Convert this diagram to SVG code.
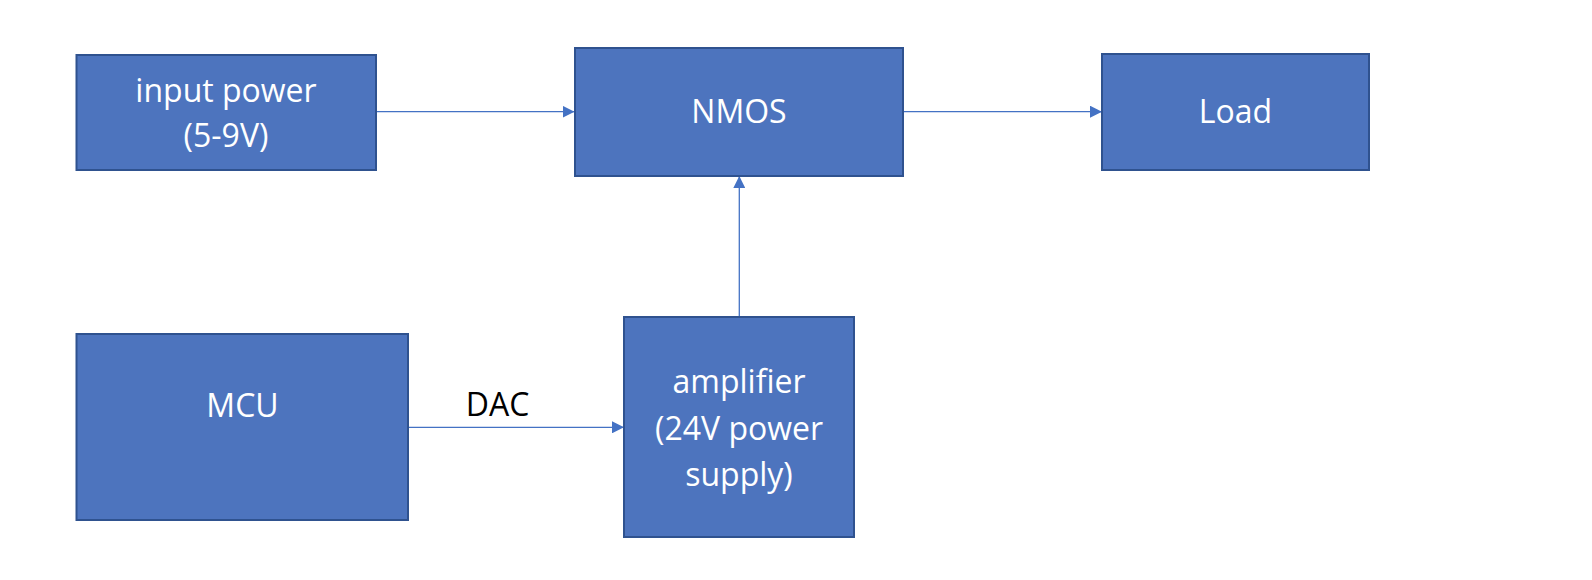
<svg xmlns="http://www.w3.org/2000/svg" width="1592" height="580" viewBox="0 0 1592 580">
<style>
.box{fill:#4D74BE;stroke:#2F528F;stroke-width:2}
.t{font-family:"Open Sans","Liberation Sans",sans-serif;font-size:32px;fill:#FFFFFF;text-anchor:middle}
.lbl{font-family:"Open Sans","Liberation Sans",sans-serif;font-size:32px;fill:#000000;text-anchor:middle}
.c{stroke:#4472C4;stroke-width:1.3;fill:none}
</style>
<defs>
<marker id="ah" viewBox="0 0 12 12" refX="12" refY="6" markerWidth="12" markerHeight="12" markerUnits="userSpaceOnUse" orient="auto">
<path d="M0,0 L12,6 L0,12 Z" fill="#4472C4"/>
</marker>
</defs>
<rect width="1592" height="580" fill="#FFFFFF"/>
<g id="connectors">
<line class="c" x1="376" y1="111.7" x2="574.5" y2="111.7" marker-end="url(#ah)"/>
<line class="c" x1="903" y1="111.7" x2="1102" y2="111.7" marker-end="url(#ah)"/>
<line class="c" x1="739.3" y1="317" x2="739.3" y2="176" marker-end="url(#ah)"/>
<line class="c" x1="408" y1="427.3" x2="624" y2="427.3" marker-end="url(#ah)"/>
<text class="lbl" x="497.5" y="416">DAC</text>
</g>
<g id="input-power">
<rect class="box" x="76.5" y="55" width="299.5" height="115"/>
<text class="t" x="226" y="101.7">input power</text>
<text class="t" x="226" y="147.3">(5-9V)</text>
</g>
<g id="nmos">
<rect class="box" x="575" y="48" width="328" height="128"/>
<text class="t" x="739" y="123.3">NMOS</text>
</g>
<g id="load">
<rect class="box" x="1102" y="54" width="267" height="116"/>
<text class="t" x="1235.5" y="123.3">Load</text>
</g>
<g id="mcu">
<rect class="box" x="76.5" y="334" width="331.5" height="186"/>
<text class="t" x="242.5" y="417.3">MCU</text>
</g>
<g id="amplifier">
<rect class="box" x="624" y="317" width="230" height="220"/>
<text class="t" x="739" y="393.3">amplifier</text>
<text class="t" x="739" y="440">(24V power</text>
<text class="t" x="739" y="485.7">supply)</text>
</g>
</svg>
